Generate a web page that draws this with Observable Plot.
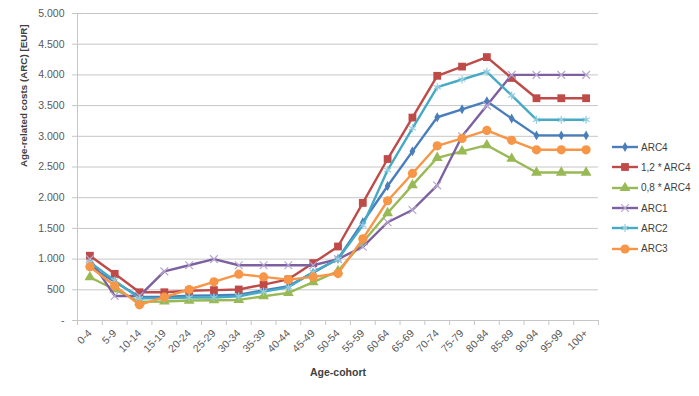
<!DOCTYPE html>
<html>
<head>
<meta charset="utf-8">
<script src="https://cdn.jsdelivr.net/npm/d3@7"></script>
<script src="https://cdn.jsdelivr.net/npm/@observablehq/plot@0.6"></script>
<style>
  html, body { margin: 0; padding: 0; background: #fff; }
  #wrap { position: relative; width: 699px; height: 396px; font-family: "Liberation Sans", Arial, sans-serif; }
  #legend { position: absolute; left: 612px; top: 137px; font-size: 10px; color: #404040; }
  #legend .row { display: flex; align-items: center; height: 20.3px; }
  #legend svg { margin-right: 3px; }
</style>
</head>
<body>
<div id="wrap"><div id="chart"></div><div id="legend"></div></div>
<script>
const ages = ["0-4","5-9","10-14","15-19","20-24","25-29","30-34","35-39","40-44","45-49","50-54","55-59","60-64","65-69","70-74","75-79","80-84","85-89","90-94","95-99","100+"];
const yTicks = [0,500,1000,1500,2000,2500,3000,3500,4000,4500,5000];

const arc4     = [880, 630, 385, 385, 405, 410, 420, 490, 560, 780, 1005, 1600, 2190, 2755, 3310, 3440, 3570, 3290, 3015, 3015, 3015];
const arc4x12  = [1055, 760, 460, 460, 485, 495, 505, 585, 670, 935, 1205, 1915, 2630, 3305, 3985, 4135, 4290, 3950, 3620, 3620, 3620];
const arc4x08  = [705, 505, 305, 310, 325, 330, 335, 395, 450, 625, 805, 1275, 1750, 2205, 2650, 2755, 2855, 2635, 2410, 2410, 2410];
const arc1     = [1000, 400, 400, 800, 900, 1000, 900, 900, 900, 900, 1000, 1200, 1600, 1800, 2200, 3000, 3500, 4000, 4000, 4000, 4000];
const arc2     = [950, 650, 360, 360, 375, 375, 395, 470, 540, 790, 1000, 1550, 2450, 3130, 3800, 3925, 4050, 3665, 3270, 3270, 3270];
const arc3     = [875, 565, 255, 380, 505, 630, 755, 710, 665, 710, 765, 1330, 1950, 2395, 2845, 2965, 3095, 2935, 2780, 2780, 2780];

const seriesNames = ["ARC4", "1,2 * ARC4", "0,8 * ARC4", "ARC1", "ARC2", "ARC3"];
const seriesValues = [arc4, arc4x12, arc4x08, arc1, arc2, arc3];
const lineColors = ["#4A7EBB", "#BE4B48", "#98B954", "#7D60A0", "#46AAC5", "#F79646"];
const markerColors = ["#4A7EBB", "#BE4B48", "#98B954", "#B7A6D0", "#93CDDD", "#F79646"];
const markerSymbols = ["diamond", "square", "triangle", "times", "asterisk", "circle"];
const markerR = [3, 4.4, 4, 3.6, 3.8, 4.6];

const fmt = d => d === 0 ? "-" : d3.format(",")(d).replace(",", ".");

const marks = [
  Plot.gridY(yTicks.slice(1), {stroke: "#C6C6C6", strokeOpacity: 1, strokeWidth: 1}),
  Plot.axisY(yTicks, {tickSize: 5, tickPadding: 8, tickFormat: fmt, stroke: "#C6C6C6", color: "#595959", fontSize: 10.5, label: null}),
  Plot.ruleX([-0.5], {stroke: "#C6C6C6"}),
  Plot.ruleY([0], {stroke: "#C6C6C6"}),
  Plot.axisX(d3.range(22).map(i => i - 0.5), {tickSize: 5, tickFormat: () => "", stroke: "#C6C6C6", label: null}),
  Plot.axisX(d3.range(ages.length), {tickSize: 0, tickPadding: 11, tickRotate: -45, tickFormat: i => ages[i], fontSize: 10.5, color: "#595959", label: null})
];

seriesValues.forEach((vals, s) => {
  const data = vals.map((v, i) => ({i, v}));
  marks.push(Plot.line(data, {x: "i", y: "v", stroke: lineColors[s], strokeWidth: 2.4}));
  const filled = !(markerSymbols[s] === "times" || markerSymbols[s] === "asterisk");
  marks.push(Plot.dot(data, filled
    ? {x: "i", y: "v", symbol: () => markerSymbols[s], r: markerR[s], fill: markerColors[s], stroke: "none"}
    : {x: "i", y: "v", symbol: () => markerSymbols[s], r: markerR[s], stroke: markerColors[s], strokeWidth: 1.2, fill: "none"}));
});

marks.push(Plot.text(["Age-cohort"], {frameAnchor: "bottom", dy: 55, fontWeight: "bold", fontSize: 10.5, fill: "#404040"}));
marks.push(Plot.text(["Age-related costs (ARC) [EUR]"], {frameAnchor: "left", dx: -54, rotate: -90, fontWeight: "bold", fontSize: 9.8, fill: "#404040"}));

const chart = Plot.plot({
  width: 699, height: 396,
  marginLeft: 77, marginRight: 101, marginTop: 13, marginBottom: 76,
  x: {domain: [-0.5, 20.5], axis: null},
  y: {domain: [0, 5000], axis: null},
  symbol: {type: "identity"},
  style: {fontFamily: "Liberation Sans, Arial, sans-serif", fontSize: "10px", background: "#fff"},
  marks
});
document.getElementById("chart").appendChild(chart);

const legend = document.getElementById("legend");
seriesNames.forEach((name, s) => {
  const row = document.createElement("div");
  row.className = "row";
  const sv = d3.create("svg").attr("width", 26).attr("height", 12);
  sv.append("line").attr("x1", 0).attr("x2", 26).attr("y1", 6).attr("y2", 6).attr("stroke", lineColors[s]).attr("stroke-width", 2.4);
  const symMap = {diamond: d3.symbolDiamond, square: d3.symbolSquare, triangle: d3.symbolTriangle, times: d3.symbolTimes, asterisk: d3.symbolAsterisk, circle: d3.symbolCircle};
  const filled = !(markerSymbols[s] === "times" || markerSymbols[s] === "asterisk");
  const p = sv.append("path").attr("transform", "translate(13,6)")
    .attr("d", d3.symbol(symMap[markerSymbols[s]], Math.PI * markerR[s] * markerR[s])());
  if (filled) p.attr("fill", markerColors[s]);
  else p.attr("fill", "none").attr("stroke", markerColors[s]).attr("stroke-width", 1.2);
  row.appendChild(sv.node());
  const t = document.createElement("span");
  t.textContent = name;
  row.appendChild(t);
  legend.appendChild(row);
});
</script>
</body>
</html>
